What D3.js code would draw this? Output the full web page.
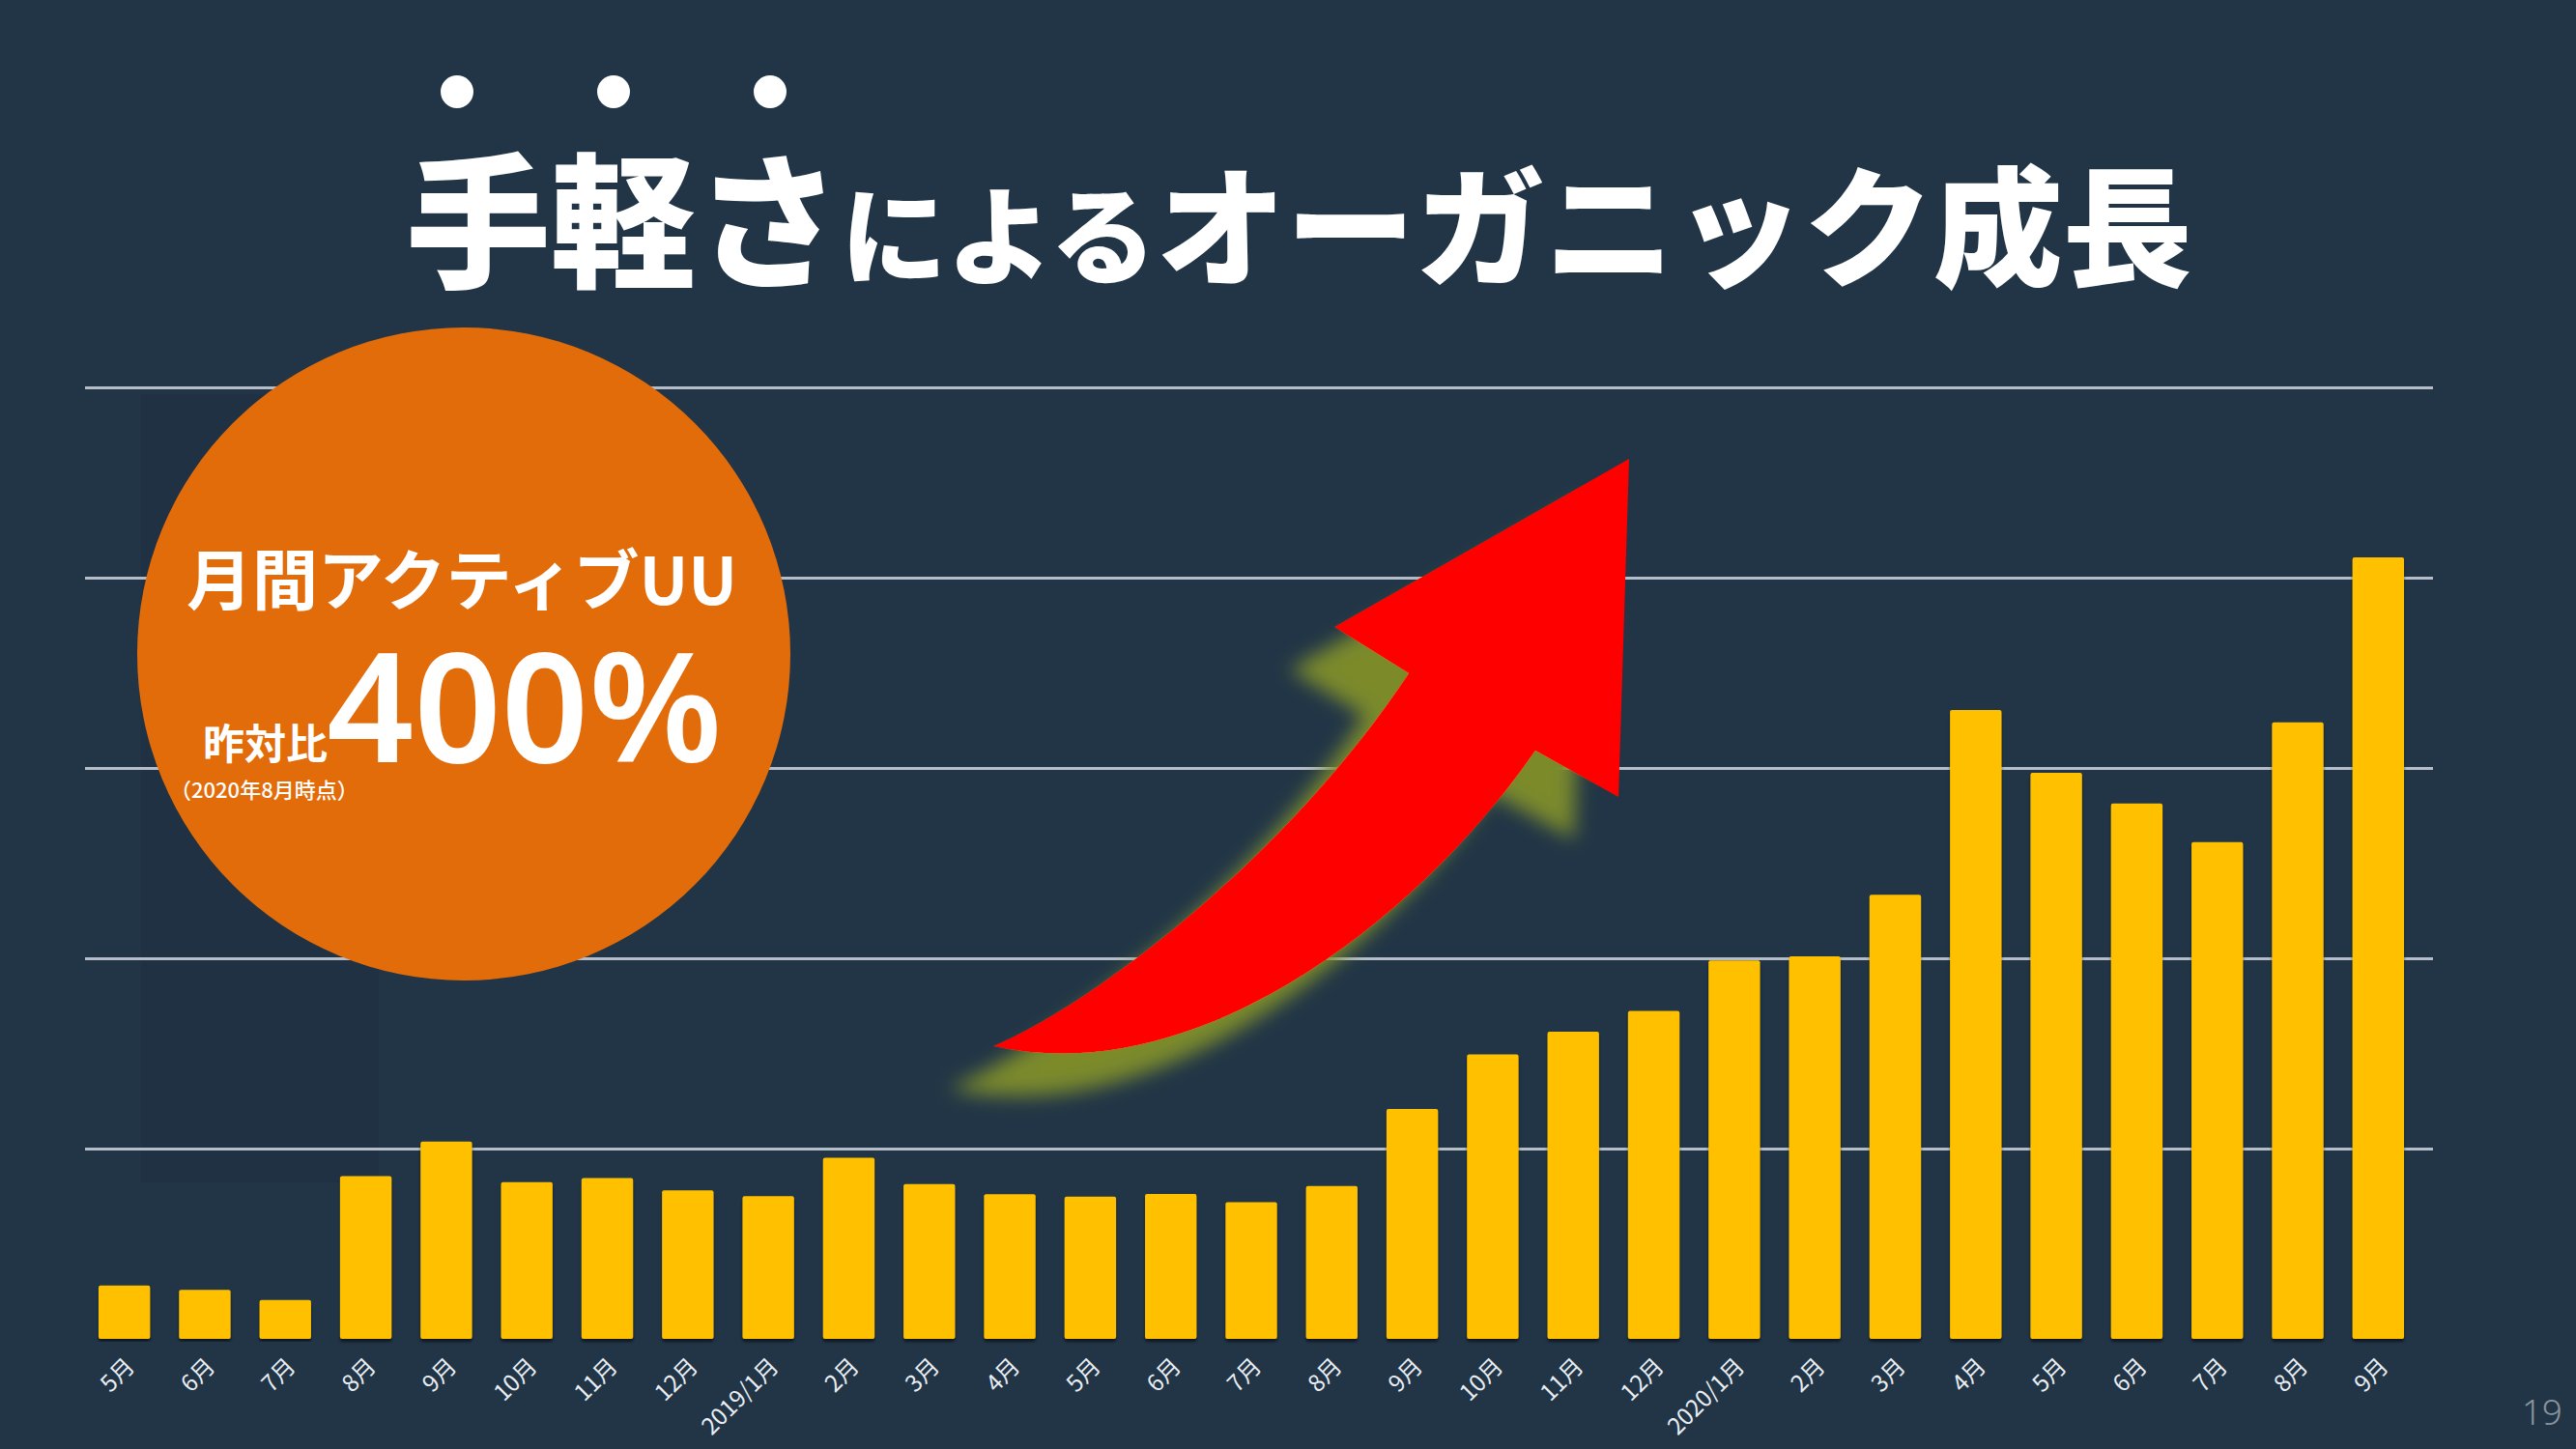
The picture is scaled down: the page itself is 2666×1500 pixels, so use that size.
<!DOCTYPE html>
<html>
<head>
<meta charset="utf-8">
<script src="https://cdn.jsdelivr.net/npm/d3@7"></script>
<style>
  html, body { margin: 0; padding: 0; background: #213547; }
  svg { display: block; }
</style>
</head>
<body>
<svg id="chart"></svg>
<script>
// データ：月ごとの月間アクティブUU（目盛り単位で読み取り）
const months = ['5月','6月','7月','8月','9月','10月','11月','12月','2019/1月','2月','3月','4月',
                '5月','6月','7月','8月','9月','10月','11月','12月','2020/1月','2月','3月','4月',
                '5月','6月','7月','8月','9月'];
const activeUU = [0.281, 0.257, 0.204, 0.855, 1.037, 0.823, 0.845, 0.781, 0.750, 0.952, 0.813, 0.760,
                  0.748, 0.762, 0.718, 0.803, 1.208, 1.495, 1.614, 1.723, 1.988, 2.010, 2.334, 3.305,
                  2.975, 2.813, 2.611, 3.240, 4.107];
const gridTicks = [1, 2, 3, 4, 5];

const titleParts = [
  { text: '手軽さ', size: 150 },
  { text: 'による', size: 110 },
  { text: 'オーガニック成長', size: 134 }
];
const badgeTitle = '月間アクティブUU';
const badgeLead = '昨対比';
const badgeValue = '400%';
const badgeNote = '（2020年8月時点）';
const pageNo = '19';

const width = 2666;
const height = 1500;
const MARGINS = { left: 87, right: 2503, top: 401, bottom: 1386 };

const svg = d3.select('#chart')
    .attr('width', width)
    .attr('height', height);

svg.append('rect')
    .attr('width', width)
    .attr('height', height)
    .attr('fill', '#213547');

// 左側のうっすら暗い帯
svg.append('rect')
    .attr('x', 146).attr('y', 408)
    .attr('width', 246).attr('height', 816)
    .attr('fill', '#1f3143');

const defs = svg.append('defs');

const barShadow = defs.append('filter').attr('id', 'barShadow')
    .attr('x', '-20%').attr('y', '-5%').attr('width', '140%').attr('height', '110%');
barShadow.append('feDropShadow')
    .attr('dx', 0).attr('dy', 3).attr('stdDeviation', 1.5)
    .attr('flood-color', '#000').attr('flood-opacity', 0.55);

const glow = defs.append('filter').attr('id', 'arrowGlow')
    .attr('x', '-30%').attr('y', '-30%').attr('width', '160%').attr('height', '160%');
glow.append('feGaussianBlur').attr('in', 'SourceAlpha').attr('stdDeviation', 10).attr('result', 'blur');
glow.append('feOffset').attr('in', 'blur').attr('dx', -46).attr('dy', 44).attr('result', 'off');
glow.append('feFlood').attr('flood-color', '#7b8a2c');
glow.append('feComposite').attr('in2', 'off').attr('operator', 'in').attr('result', 'shadow');
const merge = glow.append('feMerge');
merge.append('feMergeNode').attr('in', 'shadow');
merge.append('feMergeNode').attr('in', 'SourceGraphic');

// スケール
const x = d3.scaleBand()
    .domain(d3.range(months.length))
    .range([MARGINS.left, MARGINS.right])
    .paddingInner(0.36)
    .paddingOuter(0.18);

const y = d3.scaleLinear()
    .domain([0, 5])
    .range([MARGINS.bottom, MARGINS.top]);

// 目盛り線
const grid = svg.append('g')
    .attr('transform', `translate(${MARGINS.left + 1}, 0)`)
    .call(d3.axisLeft(y).tickValues(gridTicks).tickSize(-(2518 - 88)).tickFormat(''));
grid.select('.domain').remove();
grid.selectAll('line')
    .attr('stroke', '#b4bdc8')
    .attr('stroke-width', 3);

// 棒
svg.append('g')
    .attr('class', 'bars')
    .selectAll('rect')
    .data(activeUU)
    .enter()
    .append('rect')
    .attr('x', (d, i) => x(i))
    .attr('y', d => y(d))
    .attr('width', x.bandwidth())
    .attr('height', d => y(0) - y(d))
    .attr('rx', 2)
    .attr('fill', '#ffc000')
    .attr('filter', 'url(#barShadow)');

// 横軸ラベル
const xAxis = svg.append('g')
    .attr('transform', `translate(0, ${MARGINS.bottom})`)
    .call(d3.axisBottom(x).tickSize(0).tickFormat(i => months[i]));
xAxis.select('.domain').remove();
xAxis.selectAll('text')
    .attr('font-family', '"Noto Sans CJK JP", sans-serif')
    .attr('font-size', 24)
    .attr('fill', '#e9eef3')
    .attr('text-anchor', 'end')
    .attr('dy', 0)
    .attr('y', 0)
    .attr('transform', `translate(12, 30) rotate(-45)`);

// 上向き矢印
const arrowPath = 'M1028,1083 C1130,1040 1330,890 1458,697 L1381,649 L1686,475 L1675,825 L1589,777 C1470,950 1240,1130 1028,1083 Z';
svg.append('path')
    .attr('d', arrowPath)
    .attr('fill', '#ff0000')
    .attr('filter', 'url(#arrowGlow)');

// オレンジの円
svg.append('circle')
    .attr('cx', 480).attr('cy', 677)
    .attr('r', 338)
    .attr('fill', '#e36c0a');

svg.append('text')
    .text(badgeTitle)
    .attr('x', 478).attr('y', 626)
    .attr('text-anchor', 'middle')
    .attr('font-family', '"Noto Sans CJK JP", sans-serif')
    .attr('font-weight', 700)
    .attr('font-size', 68)
    .attr('fill', '#fff');

svg.append('text')
    .text(badgeLead)
    .attr('x', 210).attr('y', 786)
    .attr('font-family', '"Noto Sans CJK JP", sans-serif')
    .attr('font-weight', 700)
    .attr('font-size', 43)
    .attr('fill', '#fff');

svg.append('text')
    .text(badgeValue)
    .attr('x', 338).attr('y', 789)
    .attr('font-family', '"Noto Sans", sans-serif')
    .attr('font-weight', 600)
    .attr('font-size', 158)
    .attr('fill', '#fff');

svg.append('text')
    .text(badgeNote)
    .attr('x', 176).attr('y', 826)
    .attr('font-family', '"Noto Sans CJK JP", sans-serif')
    .attr('font-weight', 500)
    .attr('font-size', 22)
    .attr('fill', '#fff');

// タイトル
const title = svg.append('text')
    .attr('x', 420).attr('y', 286)
    .attr('font-family', '"Noto Sans CJK JP", sans-serif')
    .attr('font-weight', 900)
    .attr('fill', '#fff');
title.selectAll('tspan')
    .data(titleParts)
    .enter()
    .append('tspan')
    .attr('font-size', d => d.size)
    .text(d => d.text);

// 強調の点
svg.append('g')
    .selectAll('circle')
    .data([473, 635, 797])
    .enter()
    .append('circle')
    .attr('cx', d => d)
    .attr('cy', 95)
    .attr('r', 17)
    .attr('fill', '#fff');

// ページ番号
svg.append('text')
    .text(pageNo)
    .attr('x', 2652).attr('y', 1475)
    .attr('text-anchor', 'end')
    .attr('font-family', '"Noto Sans", sans-serif')
    .attr('font-weight', 300)
    .attr('font-size', 37)
    .attr('fill', '#8a939c');
</script>
</body>
</html>
